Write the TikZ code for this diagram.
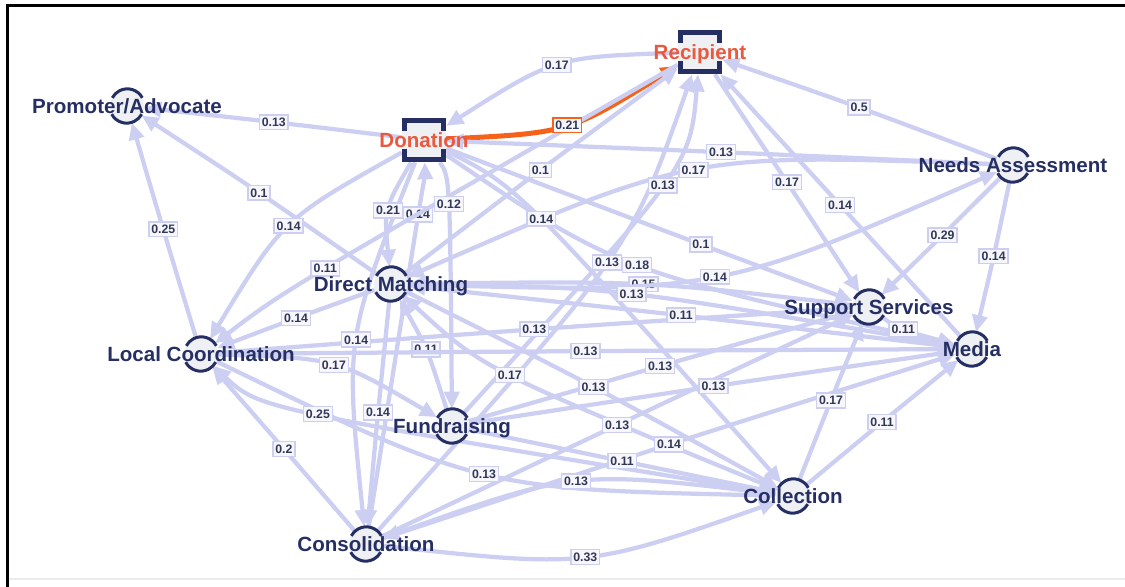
\documentclass[tikz,border=0pt]{standalone}
\usepackage{fontspec}
\setmainfont{Liberation Sans}
\usetikzlibrary{arrows.meta,positioning}

\definecolor{edgeblue}{RGB}{204,207,242}
\definecolor{navy}{RGB}{38,47,99}
\definecolor{flowred}{RGB}{234,88,62}
\definecolor{floworange}{RGB}{246,98,26}
\definecolor{boxfill}{RGB}{246,246,252}
\definecolor{hubfill}{RGB}{238,240,243}
\definecolor{wtext}{RGB}{48,56,86}

\tikzset{
  hub/.style={circle,minimum size=6.8mm,inner sep=0pt},
  sqbox/.style={rectangle,minimum size=8.8mm,inner sep=0pt},
  hubtext/.style={font=\bfseries\fontsize{11.7}{12}\selectfont,text=navy,inner sep=0pt,text height=8.4pt,text depth=0pt},
  redtext/.style={hubtext,text=flowred},
  flow/.style={draw=edgeblue,line width=0.85mm,-{Triangle[length=3.4mm,width=3mm]}},
  wlabel/.style={draw=edgeblue,fill=boxfill,line width=0.3mm,inner xsep=0.5mm,inner ysep=0.6mm,text=wtext,font=\bfseries\fontsize{7}{8}\selectfont,text height=5pt,text depth=0pt},
  ring/.style={draw=navy,line width=0.6mm},
}

\begin{document}
\begin{tikzpicture}[x=0.2mm,y=-0.2mm]
\useasboundingbox (0,0) rectangle (1125,587);
\draw[line width=0.6mm] (7,587) -- (7,6) -- (1125,6);
\draw[black!8,line width=0.3mm] (9,579) -- (1125,579);

% steps
\node[hub]   (pro) at (127,106) {};
\node[sqbox] (don) at (424,140) {};
\node[sqbox] (rec) at (700,52) {};
\node[hub]   (nee) at (1013,165) {};
\node[hub]   (dir) at (391,284) {};
\node[hub]   (sup) at (869,307) {};
\node[hub]   (med) at (972,349) {};
\node[hub]   (loc) at (201,354) {};
\node[hub]   (fun) at (452,426) {};
\node[hub]   (col) at (793,496) {};
\node[hub]   (con) at (366,544) {};

% transitions, weights go on top afterwards
\draw[flow] (rec) .. controls (555,57) .. (don) coordinate[pos=.5] (w1);
\draw[flow,draw=floworange,line width=1mm] (don) .. controls (569,133) .. (rec) coordinate[pos=.5] (w2);
\draw[flow] (con) .. controls (425,171) .. (don) node[wlabel,pos=.5] {0.14};
\draw[flow] (don) .. controls (274,122) .. (pro) coordinate[pos=.5] (w3);
\draw[flow] (nee) .. controls (859,107) .. (rec) coordinate[pos=.5] (w4);
\draw[flow] (nee) .. controls (721,152) .. (don) coordinate[pos=.5] (w5);
\draw[flow] (nee) .. controls (691,153) .. (dir) coordinate[pos=.5] (w6);
\draw[flow] (fun) .. controls (690,166) .. (rec) coordinate[pos=.5] (w7);
\draw[flow] (dir) .. controls (540,170) .. (rec) coordinate[pos=.5] (w8);
\draw[flow] (rec) .. controls (787,182) .. (sup) coordinate[pos=.5] (w9);
\draw[flow] (med) .. controls (840,205) .. (rec) coordinate[pos=.5] (w10);
\draw[flow] (dir) .. controls (259,192) .. (pro) coordinate[pos=.5] (w11);
\draw[flow] (loc) .. controls (163,229) .. (pro) coordinate[pos=.5] (w12);
\draw[flow] (don) .. controls (283,219) .. (loc) coordinate[pos=.5] (w13);
\draw[flow] (rec) .. controls (285,290) .. (loc) coordinate[pos=.5] (w14);
\draw[flow] (dir) .. controls (296,318) .. (loc) coordinate[pos=.5] (w15);
\draw[flow] (don) .. controls (384,209) .. (dir) coordinate[pos=.5] (w16);
\draw[flow] (don) .. controls (450,177) .. (fun) coordinate[pos=.5] (w18);
\draw[flow] (don) .. controls (517,186) .. (col) coordinate[pos=.5] (w19);
\draw[flow] (con) .. controls (631,249) .. (rec) coordinate[pos=.5] (w20);
\draw[flow] (don) .. controls (616,270) .. (med) coordinate[pos=.5] (w21);
\draw[flow] (don) .. controls (718,251) .. (sup) coordinate[pos=.5] (w22);
\draw[flow] (sup) .. controls (648,281) .. (dir) node[wlabel,pos=.5] {0.15};
\draw[flow] (dir) .. controls (719,293) .. (nee) coordinate[pos=.5] (w23);
\draw[flow] (dir) .. controls (615,287) .. (med) coordinate[pos=.5] (w25);
\draw[flow] (med) .. controls (681,315) .. (dir) coordinate[pos=.5] (w26);
\draw[flow] (nee) .. controls (943,235) .. (sup) coordinate[pos=.5] (w27);
\draw[flow] (nee) .. controls (994,256) .. (med) coordinate[pos=.5] (w28);
\draw[flow] (sup) .. controls (898,329) .. (med) coordinate[pos=.5] (w29);
\draw[flow] (don) .. controls (345,338) .. (con) coordinate[pos=.5] (w30);
\draw[flow] (dir) .. controls (378,412) .. (con) coordinate[pos=.5] (w31);
\draw[flow] (loc) .. controls (336,358) .. (fun) coordinate[pos=.5] (w32);
\draw[flow] (fun) .. controls (427,348) .. (dir) node[wlabel,pos=.5] {0.11};
\draw[flow] (loc) .. controls (534,329) .. (sup) coordinate[pos=.5] (w34);
\draw[flow] (loc) .. controls (585,351) .. (med) coordinate[pos=.5] (w35);
\draw[flow] (fun) .. controls (660,366) .. (sup) coordinate[pos=.5] (w36);
\draw[flow] (col) .. controls (483,369) .. (dir) coordinate[pos=.5] (w37);
\draw[flow] (dir) .. controls (594,386) .. (col) coordinate[pos=.5] (w38);
\draw[flow] (fun) .. controls (714,386) .. (med) coordinate[pos=.5] (w39);
\draw[flow] (col) .. controls (259,409) .. (loc) coordinate[pos=.5] (w40);
\draw[flow] (con) .. controls (284,449) .. (loc) coordinate[pos=.5] (w41);
\draw[flow] (con) .. controls (617,425) .. (sup) coordinate[pos=.5] (w42);
\draw[flow] (con) .. controls (669,444) .. (med) coordinate[pos=.5] (w43);
\draw[flow] (fun) .. controls (622,461) .. (col) coordinate[pos=.5] (w44);
\draw[flow] (loc) .. controls (480,489) .. (col) coordinate[pos=.5] (w45);
\draw[flow] (col) .. controls (575,470) .. (con) coordinate[pos=.5] (w46);
\draw[flow] (col) .. controls (831,400) .. (sup) coordinate[pos=.5] (w47);
\draw[flow] (col) .. controls (882,422) .. (med) coordinate[pos=.5] (w48);
\draw[flow] (con) .. controls (587,568) .. (col) coordinate[pos=.5] (w49);

% weights
\node[wlabel,draw=floworange] at (w2) {0.21};
\foreach \w/\val in {w1/0.17,w3/0.13,w4/0.5,w5/0.13,w6/0.17,w7/0.13,w8/0.1,
    w9/0.17,w10/0.14,w11/0.1,w12/0.25,w13/0.14,w14/0.11,w15/0.14,w16/0.21,
    w18/0.12,w19/0.14,w20/0.13,w21/0.18,w22/0.1,w23/0.14,w25/0.13,w26/0.11,
    w27/0.29,w28/0.14,w29/0.11,w30/0.14,w31/0.14,w32/0.17,w34/0.13,w35/0.13,
    w36/0.13,w37/0.17,w38/0.13,w39/0.13,w40/0.25,w41/0.2,w42/0.13,w43/0.14,
    w44/0.11,w45/0.13,w46/0.13,w47/0.17,w48/0.11,w49/0.33}
  \node[wlabel] at (\w) {\val};

% round steps
\foreach \n in {pro,nee,dir,sup,med,loc,fun,col,con}{
  \fill[hubfill] (\n) circle (3.4mm);
  \draw[ring] (\n.28) arc (28:152:3.4mm);
  \draw[ring] (\n.208) arc (208:332:3.4mm);
}
% square steps
\foreach \n in {don,rec}{
  \fill[hubfill] (\n.south west) rectangle (\n.north east);
  \draw[ring,line width=1.1mm] ([shift={(0.55mm,-2.7mm)}]\n.north west) |- ([shift={(-0.55mm,-0.55mm)}]\n.north east) -- ++(0mm,-2.15mm);
  \draw[ring,line width=1.1mm] ([shift={(0.55mm,2.7mm)}]\n.south west) |- ([shift={(-0.55mm,0.55mm)}]\n.south east) -- ++(0mm,2.15mm);
}

\node[hubtext] (prot) at (pro) {Promoter/Advocate};
\node[redtext] (dont) at (don) {Donation};
\node[redtext] (rect) at (rec) {Recipient};
\node[hubtext] (neet) at (nee) {Needs Assessment};
\node[hubtext] (dirt) at (dir) {Direct Matching};
\node[hubtext] (supt) at (sup) {Support Services};
\node[hubtext] (medt) at (med) {Media};
\node[hubtext] (loct) at (loc) {Local Coordination};
\node[hubtext] (funt) at (fun) {Fundraising};
\node[hubtext] (colt) at (col) {Collection};
\node[hubtext] (cont) at (con) {Consolidation};
\end{tikzpicture}
\end{document}
